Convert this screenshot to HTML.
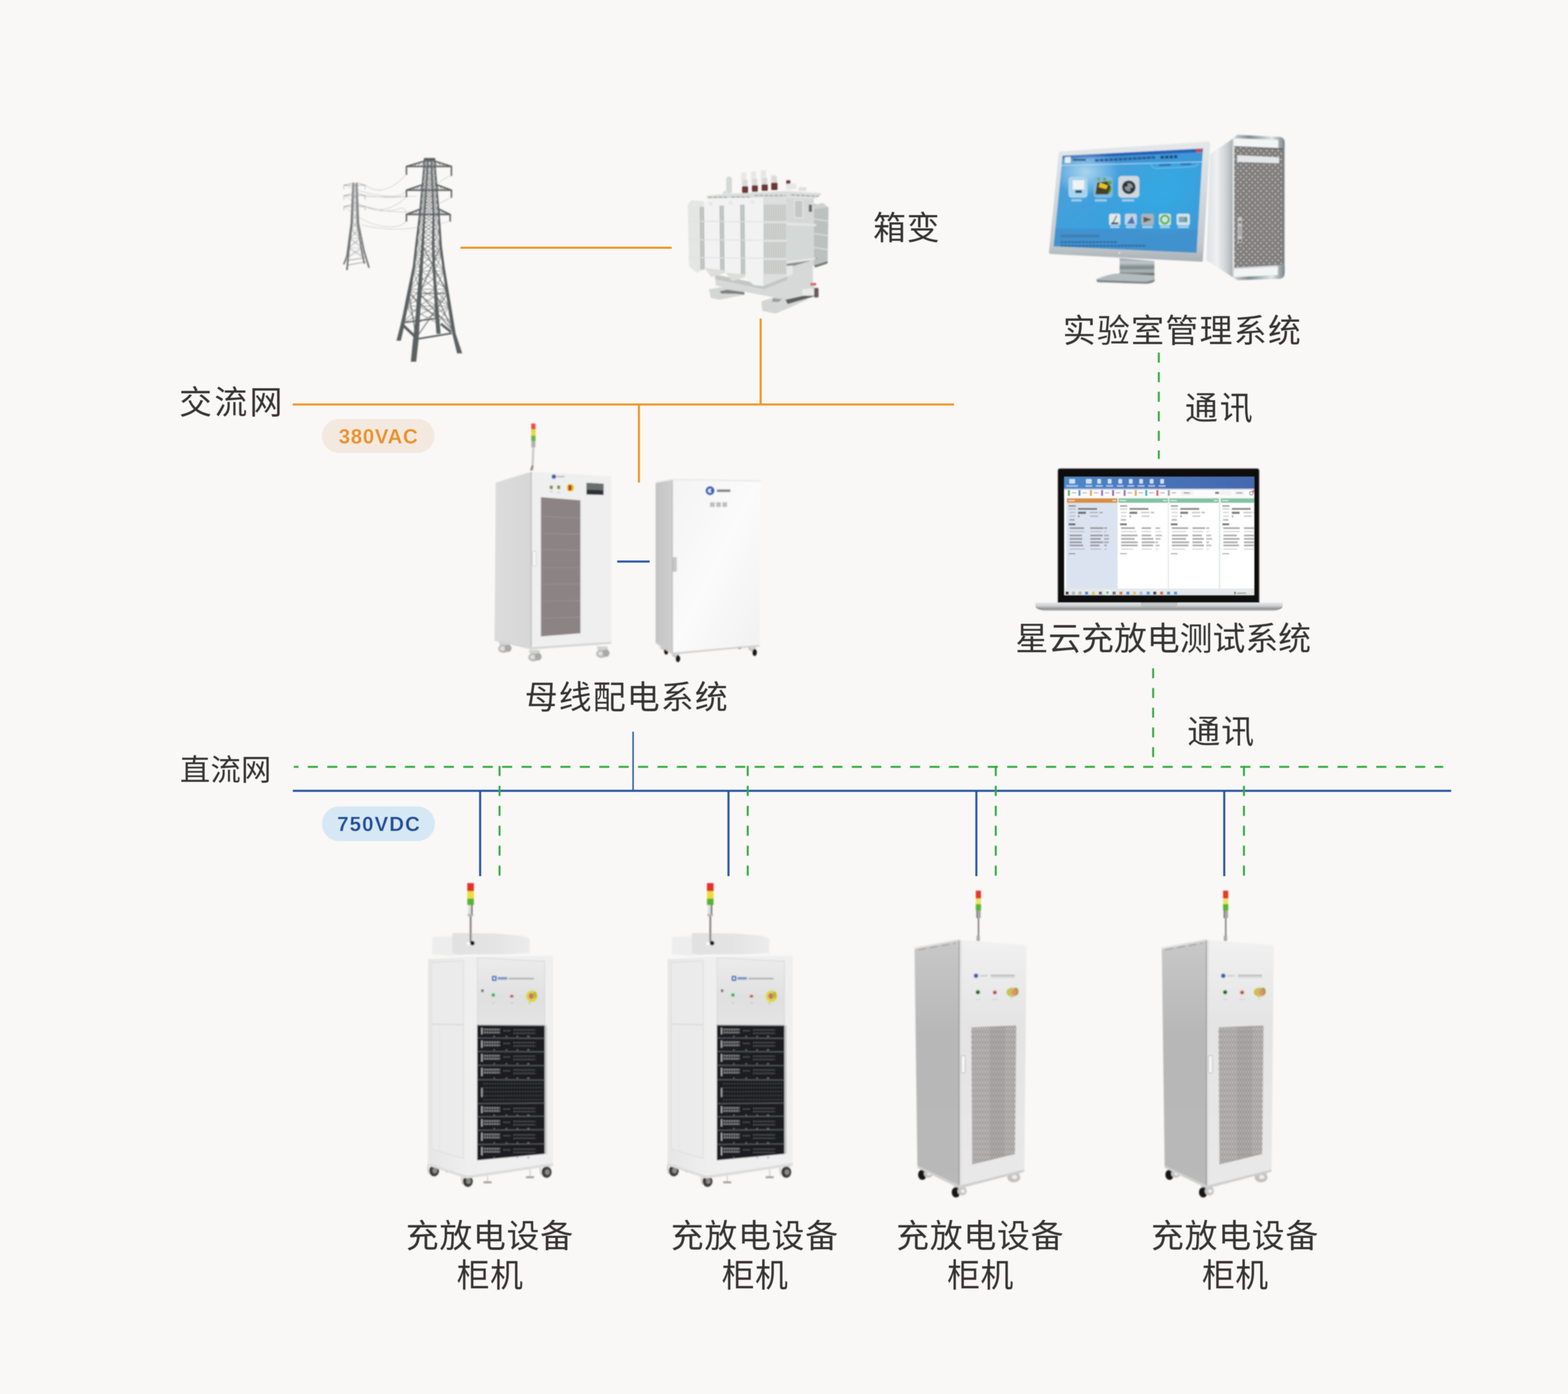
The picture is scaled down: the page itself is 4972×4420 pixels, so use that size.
<!DOCTYPE html>
<html lang="zh"><head><meta charset="utf-8"><title>充放电测试系统拓扑图</title>
<style>html,body{margin:0;padding:0;background:#f9f8f6;font-family:"Liberation Sans",sans-serif}svg{display:block}</style>
</head><body>
<svg width="4972" height="4420" viewBox="0 0 4972 4420">
<defs>
<filter id="bl1" x="-5%" y="-5%" width="110%" height="110%"><feGaussianBlur stdDeviation="1.5"/></filter>
<filter id="bl2" x="-5%" y="-5%" width="110%" height="110%"><feGaussianBlur stdDeviation="2.0"/></filter>
<filter id="bl0" x="-5%" y="-5%" width="110%" height="110%"><feGaussianBlur stdDeviation="1.1"/></filter>
</defs>
<rect width="4972" height="4420" fill="#f9f8f6"/>
<g id="lines" filter="url(#bl0)"><path d="M1460.0 785.5L2130.0 785.5" stroke="#ee9420" stroke-width="6.5" fill="none"/>
<path d="M2412.0 1010.0L2412.0 1283.0" stroke="#ee9420" stroke-width="6.5" fill="none"/>
<path d="M928.0 1282.5L3025.0 1282.5" stroke="#ee9420" stroke-width="6.5" fill="none"/>
<path d="M2026.0 1282.0L2026.0 1530.0" stroke="#ee9420" stroke-width="6.5" fill="none"/>
<path d="M1957.0 1780.5L2060.0 1780.5" stroke="#2553a3" stroke-width="6.5" fill="none"/>
<path d="M2007.5 2320.0L2007.5 2508.0" stroke="#2553a3" stroke-width="4.5" fill="none"/>
<path d="M928.5 2507.5L4601.5 2507.5" stroke="#2553a3" stroke-width="6.5" fill="none"/>
<path d="M1522.5 2507.0L1522.5 2778.0" stroke="#2553a3" stroke-width="6.5" fill="none"/>
<path d="M2310.0 2507.0L2310.0 2778.0" stroke="#2553a3" stroke-width="6.5" fill="none"/>
<path d="M3096.0 2507.0L3096.0 2778.0" stroke="#2553a3" stroke-width="6.5" fill="none"/>
<path d="M3882.0 2507.0L3882.0 2778.0" stroke="#2553a3" stroke-width="6.5" fill="none"/>
<path d="M931.5 2431.5L4576.0 2431.5" stroke="#2fa93c" stroke-width="6" fill="none" stroke-dasharray="32 29.6" stroke-dashoffset="17"/>
<path d="M1584.0 2428.5L1584.0 2778.0" stroke="#2fa93c" stroke-width="6" fill="none" stroke-dasharray="32 31.2" stroke-dashoffset="0"/>
<path d="M2371.0 2428.5L2371.0 2778.0" stroke="#2fa93c" stroke-width="6" fill="none" stroke-dasharray="32 31.2" stroke-dashoffset="0"/>
<path d="M3157.5 2428.5L3157.5 2778.0" stroke="#2fa93c" stroke-width="6" fill="none" stroke-dasharray="32 31.2" stroke-dashoffset="0"/>
<path d="M3944.5 2428.5L3944.5 2778.0" stroke="#2fa93c" stroke-width="6" fill="none" stroke-dasharray="32 31.2" stroke-dashoffset="0"/>
<path d="M3674.5 1118.0L3674.5 1455.0" stroke="#2fa93c" stroke-width="6" fill="none" stroke-dasharray="32 30" stroke-dashoffset="0"/>
<path d="M3656.5 2119.0L3656.5 2401.0" stroke="#2fa93c" stroke-width="6" fill="none" stroke-dasharray="31.5 31" stroke-dashoffset="0"/></g>
<g id="pills" filter="url(#bl0)"><rect x="1021" y="1328.5" width="357" height="107.5" rx="53.7" fill="#f3e9df"/>
<rect x="1021" y="2557" width="358" height="110" rx="55" fill="#d6e8f4"/>
<text x="1074.32" y="1405.60" font-family="&quot;Liberation Sans&quot;, sans-serif" font-size="64.6" font-weight="bold" fill="#ea9320" textLength="250" lengthAdjust="spacing">380VAC</text>
<text x="1069.17" y="2635.05" font-family="&quot;Liberation Sans&quot;, sans-serif" font-size="64.6" font-weight="bold" fill="#1f4f9e" textLength="262" lengthAdjust="spacing">750VDC</text></g>
<g id="illus"><!-- ill_pylon --><g filter="url(#bl2)"><g transform="translate(1050 470) scale(0.38521)"><path d="M280 300Q430 420 620 215M280 385Q480 420 620 395M270 400Q520 400 700 395M105 300Q330 400 520 395Q600 385 620 345M280 475Q450 560 620 400M105 385Q330 560 560 500Q600 470 620 540M280 475Q470 540 700 520M105 475Q330 680 560 640Q600 620 620 600M250 630Q480 690 720 650M990 225Q940 240 885 285M990 405Q940 430 890 455M980 600Q940 610 905 620" stroke="#9a9c9d" stroke-width="4" fill="none" opacity=".55"/><g opacity=".92"><path d="M177 290L185 330M187 290L175 330M187 290L217 330M215 290L185 330M215 290L206 330M205 290L217 330M177 290L206 330M205 290L175 330M177 290L215 290M175 330L183 385M185 330L173 385M185 330L218 385M217 330L183 385M217 330L208 385M206 330L218 385M175 330L208 385M206 330L173 385M175 330L217 330M173 385L181 430M183 385L171 430M183 385L220 430M218 385L181 430M218 385L209 430M208 385L220 430M173 385L209 430M208 385L171 430M173 385L218 385M171 430L179 475M181 430L170 475M181 430L221 475M220 430L179 475M220 430L211 475M209 430L221 475M171 430L211 475M209 430L170 475M171 430L220 430M170 475L176 540M179 475L167 540M179 475L223 540M221 475L176 540M221 475L213 540M211 475L223 540M170 475L213 540M211 475L167 540M170 475L221 475M167 540L174 600M176 540L165 600M176 540L225 600M223 540L174 600M223 540L214 600M213 540L225 600M167 540L214 600M213 540L165 600M167 540L223 540M165 600L167 670M174 600L158 670M174 600L236 670M225 600L167 670M225 600L223 670M214 600L236 670M165 600L223 670M214 600L158 670M165 600L225 600M158 670L158 740M167 670L149 740M167 670L250 740M236 670L158 740M236 670L234 740M223 670L250 740M158 670L234 740M223 670L149 740M158 670L236 670M149 740L149 820M158 740L138 820M158 740L265 820M250 740L149 820M250 740L247 820M234 740L265 820M149 740L247 820M234 740L138 820M149 740L250 740M138 820L140 900M149 820L125 900M149 820L287 900M265 820L140 900M265 820L263 900M247 820L287 900M138 820L263 900M247 820L125 900M138 820L265 820" stroke="#8a8d90" stroke-width="3.4" fill="none" opacity=".8"/><path d="M177 284L164 619L130 886L104 956" stroke="#8a8d90" stroke-width="1" fill="none" stroke-linejoin="round"/><path d="M187 284L173 619L141 886L130 1003" stroke="#8a8d90" stroke-width="1" fill="none" stroke-linejoin="round"/><path d="M215 284L226 619L269 838L312 984" stroke="#8a8d90" stroke-width="1" fill="none" stroke-linejoin="round"/><path d="M205 284L215 619L254 862L274 950" stroke="#8a8d90" stroke-width="1" fill="none" stroke-linejoin="round"/><path d="M188 284 L105 305 L105 338 M212 284 L280 305 L280 338 M105 305 H280" stroke="#909496" stroke-width="4" fill="none"/><path d="M188 369 L105 390 L105 423 M212 369 L280 390 L280 423 M105 390 H280" stroke="#909496" stroke-width="4" fill="none"/><path d="M188 459 L105 480 L105 513 M212 459 L280 480 L280 513 M105 480 H280" stroke="#909496" stroke-width="4" fill="none"/><path d="M118 925L292 900M135 962L285 935" stroke="#7a7e80" stroke-width="5"/><path d="M174.5 284.0L159.5 619.0L123.5 886.0L97.0 956.0L111.0 956.0L136.5 886.0L168.5 619.0L179.5 284.0Z" fill="#6c7072"/><path d="M184.5 284.0L168.5 619.0L134.5 886.0L123.0 1003.0L137.0 1003.0L147.5 886.0L177.5 619.0L189.5 284.0Z" fill="#64686a"/><path d="M212.5 284.0L221.5 619.0L262.5 838.0L305.0 984.0L319.0 984.0L275.5 838.0L230.5 619.0L217.5 284.0Z" fill="#64686a"/><path d="M202.5 284.0L210.5 619.0L247.5 862.0L267.0 950.0L281.0 950.0L260.5 862.0L219.5 619.0L207.5 284.0Z" fill="#6c7072"/></g><path d="M768 100L795 150M798 100L764 150M798 100L856 150M852 100L795 150M852 100L826 150M824 100L856 150M768 100L826 150M824 100L764 150M768 100L852 100M764 150L791 200M795 150L759 200M795 150L860 200M856 150L791 200M856 150L828 200M826 150L860 200M764 150L828 200M826 150L759 200M764 150L856 150M759 200L788 250M791 200L755 250M791 200L864 250M860 200L788 250M860 200L830 250M828 200L864 250M759 200L830 250M828 200L755 250M759 200L860 200M755 250L785 300M788 250L751 300M788 250L868 300M864 250L785 300M864 250L832 300M830 250L868 300M755 250L832 300M830 250L751 300M755 250L864 250M751 300L781 345M785 300L747 345M785 300L871 345M868 300L781 345M868 300L834 345M832 300L871 345M751 300L834 345M832 300L747 345M751 300L868 300M747 345L778 395M781 345L743 395M781 345L875 395M871 345L778 395M871 345L836 395M834 345L875 395M747 345L836 395M834 345L743 395M747 345L871 345M743 395L775 445M778 395L739 445M778 395L879 445M875 395L775 445M875 395L838 445M836 395L879 445M743 395L838 445M836 395L739 445M743 395L875 395M739 445L771 495M775 445L734 495M775 445L883 495M879 445L771 495M879 445L840 495M838 445L883 495M739 445L840 495M838 445L734 495M739 445L879 445M734 495L768 545M771 495L730 545M771 495L887 545M883 495L768 545M883 495L842 545M840 495L887 545M734 495L842 545M840 495L730 545M734 495L883 495M730 545L764 610M768 545L722 610M768 545L891 610M887 545L764 610M887 545L842 610M842 545L891 610M730 545L842 610M842 545L722 610M730 545L887 545M722 610L760 690M764 610L713 690M764 610L895 690M891 610L760 690M891 610L841 690M842 610L895 690M722 610L841 690M842 610L713 690M722 610L891 610M713 690L754 780M760 690L703 780M760 690L901 780M895 690L754 780M895 690L840 780M841 690L901 780M713 690L840 780M841 690L703 780M713 690L895 690M703 780L748 880M754 780L692 880M754 780L912 880M901 780L748 880M901 780L842 880M840 780L912 880M703 780L842 880M840 780L692 880M703 780L901 780M692 880L739 1010M748 880L675 1010M748 880L930 1010M912 880L739 1010M912 880L848 1010M842 880L930 1010M692 880L848 1010M842 880L675 1010M692 880L912 880M675 1010L729 1160M739 1010L647 1160M739 1010L953 1160M930 1010L729 1160M930 1010L858 1160M848 1010L953 1160M675 1010L858 1160M848 1010L647 1160M675 1010L930 1010M647 1160L719 1300M729 1160L619 1300M729 1160L974 1300M953 1160L719 1300M953 1160L867 1300M858 1160L974 1300M647 1160L867 1300M858 1160L619 1300M647 1160L953 1160M619 1300L709 1440M719 1300L590 1440M719 1300L997 1440M974 1300L709 1440M974 1300L877 1440M867 1300L997 1440M619 1300L877 1440M867 1300L590 1440M619 1300L974 1300" stroke="#666a6c" stroke-width="5.5" fill="none" opacity=".8"/><path d="M768 100L730 545L700 805L682 972L640 1195L606 1362L583 1473L556 1584" stroke="#666a6c" stroke-width="1" fill="none" stroke-linejoin="round"/><path d="M798 100L768 545L753 805L727 1195L711 1417L696 1585L678 1757" stroke="#666a6c" stroke-width="1" fill="none" stroke-linejoin="round"/><path d="M852 100L887 545L902 805L924 972L958 1195L984 1362L1012 1529L1058 1688" stroke="#666a6c" stroke-width="1" fill="none" stroke-linejoin="round"/><path d="M824 100L842 545L840 805L845 972L860 1195L871 1362L884 1527" stroke="#666a6c" stroke-width="1" fill="none" stroke-linejoin="round"/><path d="M640 1195L871 1400M727 1195L958 1195M753 805L958 1195M902 805L727 1195M727 1195L1000 1500M958 1195L700 1560M640 1195L700 1560M860 1195L1000 1500" stroke="#606466" stroke-width="9" fill="none" opacity=".8"/><path d="M580 1445L686 1546" stroke="#5c6062" stroke-width="22"/><path d="M720 1568L993 1523" stroke="#5c6062" stroke-width="14"/><path d="M608 1434L865 1401" stroke="#5c6062" stroke-width="11"/><path d="M903 1445L987 1512" stroke="#5c6062" stroke-width="20"/><path d="M763.0 100.0L723.0 545.0L691.0 805.0L672.0 972.0L625.0 1195.0L592.0 1362.0L566.5 1473.0L538.0 1584.0L574.0 1584.0L599.5 1473.0L620.0 1362.0L655.0 1195.0L692.0 972.0L709.0 805.0L737.0 545.0L773.0 100.0Z" fill="#5c6062"/><path d="M819.0 100.0L835.0 545.0L829.5 805.0L834.0 972.0L847.5 1195.0L855.5 1362.0L867.0 1527.0L901.0 1527.0L886.5 1362.0L872.5 1195.0L856.0 972.0L850.5 805.0L849.0 545.0L829.0 100.0Z" fill="#5c6062"/><path d="M847.0 100.0L880.0 545.0L892.5 805.0L914.0 972.0L945.5 1195.0L970.0 1362.0L998.0 1529.0L1037.0 1688.0L1079.0 1688.0L1026.0 1529.0L998.0 1362.0L970.5 1195.0L934.0 972.0L911.5 805.0L894.0 545.0L857.0 100.0Z" fill="#5c6062"/><path d="M793.0 100.0L761.0 545.0L742.0 805.0L710.0 1195.0L693.0 1417.0L673.0 1585.0L656.0 1757.0L700.0 1757.0L719.0 1585.0L729.0 1417.0L744.0 1195.0L764.0 805.0L775.0 545.0L803.0 100.0Z" fill="#5c6062"/><rect x="763" y="80" width="94" height="26" fill="#5c6062"/><path d="M770 105 L620 150 L620 218 M850 105 L990 150 L990 228 M620 150 H990" stroke="#5c6062" stroke-width="12" fill="none" stroke-linejoin="miter"/><path d="M620 150L650 141M990 150L962 141M650 150L680 132M962 150L934 132M680 150L710 123M934 150L906 123M710 150L740 114M906 150L878 114M740 150L770 105M878 150L850 105" stroke="#5c6062" stroke-width="6" fill="none" opacity=".8"/><path d="M752 300 L620 345 L620 403 M868 300 L990 345 L990 407 M620 345 H990" stroke="#5c6062" stroke-width="12" fill="none" stroke-linejoin="miter"/><path d="M620 345L646 336M990 345L966 336M646 345L673 327M966 345L941 327M673 345L699 318M941 345L917 318M699 345L726 309M917 345L892 309M726 345L752 300M892 345L868 300" stroke="#5c6062" stroke-width="6" fill="none" opacity=".8"/><path d="M735 500 L620 545 L620 603 M885 500 L980 545 L980 603 M620 545 H980" stroke="#5c6062" stroke-width="12" fill="none" stroke-linejoin="miter"/><path d="M620 545L643 536M980 545L961 536M643 545L666 527M961 545L942 527M666 545L689 518M942 545L923 518M689 545L712 509M923 545L904 509M712 545L735 500M904 545L885 500" stroke="#5c6062" stroke-width="6" fill="none" opacity=".8"/></g></g>
<!-- ill_trans --><g filter="url(#bl2)"><g transform="translate(2130 500) scale(0.29163)"><path d="M470 1270L1000 1380L1255 1285L1535 1170L1535 1480L1340 1560L900 1480L480 1390Z" fill="#d6d9d7" /><path d="M470 1270L1000 1380L1255 1285L1255 1330L1000 1430L472 1320Z" fill="#c2c6c4" /><path d="M405 1430L560 1405L790 1455L790 1490L520 1545L425 1525Z" fill="#d3d6d4" /><path d="M520 1452L600 1435L790 1462L790 1490L700 1480L540 1478Z" fill="#7d8280" /><path d="M975 1560L1130 1515L1490 1535L1340 1605L1130 1695L985 1665Z" fill="#d3d6d4" /><path d="M1235 1545L1530 1478L1548 1508L1262 1592Z" fill="#5a5f5d" /><path d="M1100 1525L1200 1540L1160 1570L1090 1565Z" fill="#9a9f9d" /><path d="M175 515L212 462L352 472L352 1215L270 1252L188 1180Z" fill="#e4e6e4" /><path d="M352 505L398 440L1000 418L1000 1395L890 1385L800 1300L660 1340L585 1250L430 1300L360 1200Z" fill="#f1f2f1" /><path d="M305 535L350 535L358 1215L313 1215Z" fill="#b3b8b6" /><path d="M327 535L335 1215" stroke="#e8eae8" stroke-width="6"/><path d="M520 520L565 520L573 1245L528 1245Z" fill="#b3b8b6" /><path d="M542 520L550 1245" stroke="#e8eae8" stroke-width="6"/><path d="M745 510L790 510L798 1270L753 1270Z" fill="#b3b8b6" /><path d="M767 510L775 1270" stroke="#e8eae8" stroke-width="6"/><path d="M430 1300L585 1250L585 1225L360 1200Z" fill="#dcdedc" /><path d="M660 1340L800 1300L800 1270L585 1250Z" fill="#dcdedc" /><path d="M180 690L1000 698" stroke="#dfe1df" stroke-width="10"/><path d="M180 890L1000 898" stroke="#dfe1df" stroke-width="10"/><path d="M180 1085L1000 1093" stroke="#dfe1df" stroke-width="10"/><path d="M995 418L1252 425L1257 1290L995 1395Z" fill="#dcdfdd" /><path d="M1000 505L1250 512L1255 1265L1000 1270Z" fill="#d6d9d7" /><path d="M1012 510V1265M1036 510V1265M1061 510V1265M1086 510V1265M1110 510V1265M1134 510V1265M1159 510V1265M1184 510V1265M1208 510V1265M1232 510V1265" stroke="#aeb2b0" stroke-width="8"/><rect x="1000" y="690" width="253" height="22" fill="#e0e3e1"/><rect x="1000" y="893" width="253" height="22" fill="#e0e3e1"/><rect x="1000" y="1090" width="253" height="22" fill="#e0e3e1"/><path d="M1250 430L1545 445L1545 1170L1255 1290Z" fill="#d4d8d6" /><path d="M1545 500L1705 540L1695 1125L1545 1170Z" fill="#bcc1bf" /><path d="M1545 665L1700 690" stroke="#d6d9d7" stroke-width="14"/><path d="M1545 825L1700 850" stroke="#d6d9d7" stroke-width="14"/><path d="M1545 975L1700 1000" stroke="#d6d9d7" stroke-width="14"/><path d="M1545 520L1640 490L1705 540L1545 560Z" fill="#cdd1cf" /><path d="M1250 705L1570 720L1570 745L1250 735Z" fill="#e3e5e3" /><path d="M1250 1125L1560 1085L1560 1115L1250 1155Z" fill="#e3e5e3" /><path d="M1250 1152L1560 1112L1580 1080L1580 1100L1330 1175L1250 1178Z" fill="#8a8f8d" /><path d="M1545 1170L1695 1125L1695 1150L1560 1195Z" fill="#747977" /><path d="M1250 1178L1315 1172L1315 1268L1250 1292Z" fill="#e6e8e7" /><path d="M1335 462L1425 466L1425 655L1335 650Z" fill="#c3c8c6" stroke="#eceeec" stroke-width="8"/><path d="M1490 510L1525 512L1525 590L1490 588Z" fill="#6e6462" /><path d="M380 412L600 392L1250 362L1622 385L1622 405L1560 442L1250 425L380 442Z" fill="#d9dcda" /><path d="M400 430H600M650 428H850M900 412H1240M1300 405L1600 420" stroke="#8c9290" stroke-width="12" stroke-dasharray="40 14" opacity=".8"/><path d="M380 412L600 392L1250 362L1622 385" stroke="#eceeec" stroke-width="10" fill="none"/><circle cx="245" cy="510" r="22" fill="#e6e8e6"/><circle cx="425" cy="500" r="22" fill="#e6e8e6"/><circle cx="640" cy="490" r="22" fill="#e6e8e6"/><circle cx="880" cy="480" r="22" fill="#e6e8e6"/><rect x="592" y="205" width="62" height="185" rx="28" fill="#d3d9d5"/><rect x="560" y="365" width="35" height="30" fill="#d9dcda"/><rect x="755" y="160" width="57" height="140" fill="#e8e8e6"/><rect x="773" y="240" width="51" height="70" fill="#d9d9d7"/><rect x="765" y="310" width="65" height="75" rx="8" fill="#6d3636"/><rect x="862" y="150" width="56" height="140" fill="#e8e8e6"/><rect x="880" y="230" width="50" height="70" fill="#d9d9d7"/><rect x="872" y="300" width="64" height="72" rx="8" fill="#6d3636"/><rect x="968" y="135" width="58" height="145" fill="#e8e8e6"/><rect x="986" y="220" width="52" height="70" fill="#d9d9d7"/><rect x="978" y="290" width="66" height="72" rx="8" fill="#6d3636"/><rect x="1072" y="185" width="60" height="77" fill="#e8e8e6"/><rect x="1090" y="202" width="54" height="70" fill="#d9d9d7"/><rect x="1082" y="272" width="68" height="80" rx="8" fill="#6d3636"/><rect x="1245" y="245" width="45" height="45" rx="10" fill="#6e3c3c"/><path d="M1240 285L1350 280L1360 340L1250 350Z" fill="#e6e8e6" /><rect x="1380" y="318" width="85" height="45" rx="12" fill="#e0e2de"/><path d="M1420 1430L1560 1415L1560 1500L1420 1500Z" fill="#e9ebe9" /><rect x="1548" y="1415" width="48" height="105" rx="14" fill="#6d5656"/><rect x="1508" y="1362" width="62" height="28" rx="6" fill="#d45a5a"/><rect x="1530" y="1385" width="20" height="45" fill="#cfcfcf"/></g></g>
<!-- ill_pc --><g filter="url(#bl2)"><g transform="translate(3280 400) scale(0.41585)"><defs>
<linearGradient id="pcBez" x1="0" y1="0" x2="0" y2="1"><stop offset="0" stop-color="#e4e8ea"/><stop offset=".85" stop-color="#c3c9cc"/><stop offset="1" stop-color="#a9b0b4"/></linearGradient>
<linearGradient id="pcScr" x1="0" y1="0" x2="1" y2="1"><stop offset="0" stop-color="#559dd6"/><stop offset=".55" stop-color="#38a2de"/><stop offset="1" stop-color="#3f96d4"/></linearGradient>
<linearGradient id="pcSide" x1="0" y1="0" x2="1" y2="0"><stop offset="0" stop-color="#dde1e3"/><stop offset=".4" stop-color="#eef0f1"/><stop offset=".75" stop-color="#cdd2d5"/><stop offset="1" stop-color="#a9b0b4"/></linearGradient><linearGradient id="pcBar" x1="0" y1="0" x2="1" y2="0"><stop offset="0" stop-color="#c9d0d3"/><stop offset=".3" stop-color="#7d8b90"/><stop offset=".75" stop-color="#dfe4e6"/><stop offset="1" stop-color="#76858a"/></linearGradient>
<linearGradient id="pcNeck" x1="0" y1="0" x2="0" y2="1"><stop offset="0" stop-color="#98a2a6"/><stop offset=".25" stop-color="#c2c8cb"/><stop offset=".5" stop-color="#7b868a"/><stop offset=".7" stop-color="#b0b8bb"/><stop offset=".9" stop-color="#566165"/><stop offset="1" stop-color="#98a0a4"/></linearGradient>
<linearGradient id="pcFrame" x1="0" y1="0" x2="1" y2="0"><stop offset="0" stop-color="#d6dadc"/><stop offset=".8" stop-color="#c9ced0"/><stop offset="1" stop-color="#8e9598"/></linearGradient>
<radialGradient id="pcGl1"><stop offset="0" stop-color="#c2e2f4" stop-opacity=".8"/><stop offset="1" stop-color="#c2e2f4" stop-opacity="0"/></radialGradient><radialGradient id="pcGl2"><stop offset="0" stop-color="#30b0e8" stop-opacity=".55"/><stop offset="1" stop-color="#30b0e8" stop-opacity="0"/></radialGradient><clipPath id="pcClip"><path d="M215 226L1285 170L1236 966L146 916Z"/></clipPath>
<pattern id="pcMesh" width="44" height="44" patternUnits="userSpaceOnUse"><rect width="44" height="44" fill="#858180"/><circle cx="11" cy="11" r="7.5" fill="#d4d2d1"/><circle cx="33" cy="33" r="7.5" fill="#d4d2d1"/><circle cx="33" cy="11" r="4" fill="#a5a2a1"/><circle cx="11" cy="33" r="4" fill="#a5a2a1"/></pattern>
</defs><path d="M1340 212L1512 96L1512 1152L1312 1022Z" fill="url(#pcSide)" /><path d="M1512 96L1546 66L1868 82Q1908 86 1908 126L1908 1118Q1908 1160 1868 1164L1546 1174L1512 1152Z" fill="url(#pcFrame)"/><path d="M1546 66L1868 82Q1908 86 1908 126L1908 170L1862 170L1859 105L1522 93Z" fill="url(#pcBar)"/><path d="M1546 1174L1868 1164Q1908 1160 1908 1118L1908 1060L1858 1068L1856 1135L1522 1150Z" fill="url(#pcBar)"/><path d="M1522 93L1859 105L1859 172L1522 157Z" fill="#f3f4f4" /><path d="M1522 1091L1856 1070L1856 1135L1522 1150Z" fill="#f3f4f4" /><path d="M1522 155L1897 172L1897 1053L1522 1077Z" fill="url(#pcMesh)" /><path d="M1522 155L1897 172L1897 1053L1522 1077Z" fill="#5e5a59" opacity=".22"/><path d="M1522 155L1897 172" stroke="#4a5458" stroke-width="8" opacity=".7"/><path d="M1522 1077L1897 1053" stroke="#5a6468" stroke-width="6" opacity=".6"/><path d="M1900 172V1053" stroke="#6a7478" stroke-width="8" opacity=".6"/><path d="M1519 157V1077" stroke="#eef0f1" stroke-width="7"/><path d="M1546 221L1866 238L1866 283L1546 272Z" fill="#e4e7e8" /><rect x="1553" y="696" width="28" height="192" fill="#d4d4d4" opacity=".9"/><rect x="1560" y="720" width="14" height="22" fill="#555"/><rect x="1560" y="862" width="14" height="20" fill="#333"/><rect x="1560" y="760" width="14" height="80" fill="#8a8a8a" opacity=".7"/><path d="M650 1005L915 1028L915 1150L650 1135Z" fill="url(#pcNeck)" /><path d="M470 1168Q560 1128 650 1122L915 1138L918 1172Q900 1198 850 1200L480 1188Z" fill="#b4babd"/><path d="M472 1172L850 1186L916 1170L918 1180Q900 1200 850 1202L480 1190Z" fill="#7f888c"/><path d="M198 192L1326 116Q1342 115 1341 131L1287 1022Q1286 1037 1271 1036L124 977Q108 976 109 961L184 206Q185 193 198 192Z" fill="url(#pcBez)" stroke="#f0f2f3" stroke-width="5"/><path d="M215 226L1285 170L1236 966L146 916Z" fill="url(#pcScr)" /><path d="M215 226L1285 170L1283.29 197.86L212.585 250.15Z" fill="#2a63b8" /><path d="M212.585 250.15L1283.29 197.86L1278.63 273.48L208.1 295Z" fill="#3f8cd0" opacity=".45"/><path d="M205 300L1283 272" stroke="#c4e2f5" stroke-width="7" opacity=".75"/><ellipse cx="390" cy="350" rx="260" ry="180" fill="url(#pcGl1)" clip-path="url(#pcClip)"/><path d="M1236.85 172.52L1274.3 170.56L1272.58 198.383L1235.1 200.213Z" fill="#d8453a" /><path d="M159.8 778L1246.78 790.88L1236 966L146 916Z" fill="#4290cc" opacity=".8"/><ellipse cx="1000" cy="520" rx="380" ry="320" fill="url(#pcGl2)" clip-path="url(#pcClip)"/><path d="M232 236L276 234L276 280L232 282Z" fill="#e8eef6" /><rect x="292" y="250" width="100" height="14" fill="#24406e" opacity=".8"/><path d="M462 262L920 238" stroke="#27508f" stroke-width="22" stroke-dasharray="30 6" opacity=".8"/><path d="M962 238L1090 232" stroke="#20406f" stroke-width="24" stroke-dasharray="26 8" opacity=".85"/><path d="M950 298L1040 294M1115 292L1195 288" stroke="#2c5d9c" stroke-width="14" opacity=".7"/><path d="M885 290Q900 322 940 322L1200 310Q1240 308 1250 284" stroke="#8fc4ea" stroke-width="5" fill="none" opacity=".8"/><rect x="260" y="385" width="145" height="160" rx="24" fill="#a9d4ee"/><rect x="292" y="412" width="88" height="70" fill="#eef3f6"/><rect x="312" y="488" width="50" height="22" fill="#2b4a6a"/><rect x="452" y="385" width="145" height="160" rx="24" fill="#7fb9e0"/><path d="M465 520L480 430L560 420L585 470L560 520Z" fill="#4a4020"/><path d="M500 430L560 452L548 480L490 465Z" fill="#e8c22a"/><circle cx="575" cy="430" r="16" fill="#58a83a"/><circle cx="535" cy="405" r="12" fill="#58a83a"/><circle cx="490" cy="405" r="10" fill="#58a83a"/><path d="M560 520Q600 500 585 450L570 500Z" fill="#58a83a"/><rect x="640" y="380" width="160" height="165" rx="26" fill="#cfd8de"/><circle cx="720" cy="466" r="52" fill="#343a40"/><circle cx="720" cy="466" r="30" fill="#8a949c"/><circle cx="700" cy="450" r="12" fill="#23282c"/><circle cx="742" cy="482" r="12" fill="#23282c"/><rect x="282" y="558" width="78" height="16" fill="#b9dbf2" opacity=".8"/><rect x="462" y="558" width="90" height="16" fill="#b9dbf2" opacity=".8"/><rect x="668" y="558" width="92" height="16" fill="#b9dbf2" opacity=".8"/><rect x="570" y="668" width="85" height="88" rx="14" fill="#dfe8ee"/><rect x="578" y="762" width="69" height="14" fill="#c8e2f4" opacity=".8"/><rect x="690" y="668" width="90" height="88" rx="14" fill="#c4d4e4"/><rect x="698" y="762" width="74" height="14" fill="#c8e2f4" opacity=".8"/><rect x="815" y="668" width="95" height="88" rx="14" fill="#a8b4ba"/><rect x="823" y="762" width="79" height="14" fill="#c8e2f4" opacity=".8"/><rect x="950" y="668" width="90" height="88" rx="14" fill="#cfe6d6"/><rect x="958" y="762" width="74" height="14" fill="#c8e2f4" opacity=".8"/><rect x="1085" y="668" width="100" height="88" rx="14" fill="#d5e4ec"/><rect x="1093" y="762" width="84" height="14" fill="#c8e2f4" opacity=".8"/><path d="M598 740L628 682" stroke="#5a4040" stroke-width="8"/><rect x="585" y="735" width="56" height="14" fill="#2c3c58"/><path d="M705 745L745 685L768 745Z" fill="#4a78b8"/><path d="M832 690L895 712L832 736Z" fill="#5c5c58"/><circle cx="995" cy="712" r="30" fill="none" stroke="#4aae48" stroke-width="14"/><rect x="1100" y="690" width="66" height="44" fill="#7fa8c0"/><path d="M1150 690L1168 712L1150 734" fill="#3e9a44"/><rect x="200" y="826" width="295" height="22" fill="#4a6a98" opacity=".6"/><path d="M200 884H630M200 912H850" stroke="#2a4a80" stroke-width="13" stroke-dasharray="22 5" opacity=".6"/><circle cx="648" cy="966" r="6" fill="#f4f6f7"/></g></g>
<!-- ill_laptop --><g filter="url(#bl1)"><g transform="translate(3250 1450) scale(0.41585)"><defs>
<linearGradient id="lpBase" x1="0" y1="0" x2="0" y2="1"><stop offset="0" stop-color="#e9ebec"/><stop offset=".45" stop-color="#c9cbcd"/><stop offset=".75" stop-color="#8f9193"/><stop offset="1" stop-color="#b9bbbd"/></linearGradient>
<linearGradient id="lpHdr" x1="0" y1="0" x2="1" y2="0"><stop offset="0" stop-color="#4b8acb"/><stop offset=".5" stop-color="#4673b8"/><stop offset="1" stop-color="#4468ae"/></linearGradient>
</defs><path d="M80 1106H1965V1138Q1960 1160 1900 1170H145Q85 1160 80 1138Z" fill="url(#lpBase)"/><path d="M888 1106H1157V1118Q1157 1136 1135 1136H910Q888 1136 888 1118Z" fill="#c4c6c8" stroke="#9a9c9e" stroke-width="3"/><path d="M250 1108V105Q250 85 270 85H1767Q1787 85 1787 105V1108Z" fill="#0b0707"/><path d="M250 1108V105Q250 85 270 85H1767Q1787 85 1787 105V1108" fill="none" stroke="#8a8684" stroke-width="5"/><rect x="300" y="150" width="1447" height="900" fill="#f3f6f5"/><rect x="300" y="150" width="1447" height="92" fill="url(#lpHdr)"/><rect x="338" y="166" width="44" height="34" rx="4" fill="#e9f0fa" opacity=".85"/><rect x="315" y="212" width="90" height="13" fill="#cfdcf0" opacity=".7"/><rect x="465" y="166" width="44" height="34" rx="4" fill="#e9f0fa" opacity=".85"/><rect x="461" y="212" width="52" height="13" fill="#cfdcf0" opacity=".7"/><rect x="552" y="166" width="28" height="34" rx="4" fill="#e9f0fa" opacity=".85"/><rect x="540" y="212" width="52" height="13" fill="#cfdcf0" opacity=".7"/><rect x="632" y="166" width="28" height="34" rx="4" fill="#e9f0fa" opacity=".85"/><rect x="620" y="212" width="52" height="13" fill="#cfdcf0" opacity=".7"/><rect x="713" y="166" width="28" height="34" rx="4" fill="#e9f0fa" opacity=".85"/><rect x="701" y="212" width="52" height="13" fill="#cfdcf0" opacity=".7"/><rect x="793" y="166" width="28" height="34" rx="4" fill="#e9f0fa" opacity=".85"/><rect x="781" y="212" width="52" height="13" fill="#cfdcf0" opacity=".7"/><rect x="872" y="166" width="28" height="34" rx="4" fill="#e9f0fa" opacity=".85"/><rect x="860" y="212" width="52" height="13" fill="#cfdcf0" opacity=".7"/><rect x="952" y="166" width="28" height="34" rx="4" fill="#e9f0fa" opacity=".85"/><rect x="940" y="212" width="52" height="13" fill="#cfdcf0" opacity=".7"/><rect x="1032" y="166" width="28" height="34" rx="4" fill="#e9f0fa" opacity=".85"/><rect x="1020" y="212" width="52" height="13" fill="#cfdcf0" opacity=".7"/><rect x="300" y="242" width="1447" height="64" fill="#fbfbfb"/><rect x="300" y="238" width="1447" height="9" fill="#b8c4e2"/><rect x="327" y="250" width="16" height="44" fill="#3daa4a" opacity=".9"/><rect x="357" y="266" width="34" height="10" fill="#9a9a9a" opacity=".6"/><rect x="408" y="250" width="16" height="44" fill="#4a80c8" opacity=".9"/><rect x="438" y="266" width="34" height="10" fill="#9a9a9a" opacity=".6"/><rect x="495" y="250" width="16" height="44" fill="#e09a38" opacity=".9"/><rect x="525" y="266" width="34" height="10" fill="#9a9a9a" opacity=".6"/><rect x="580" y="250" width="16" height="44" fill="#9a58b8" opacity=".9"/><rect x="610" y="266" width="34" height="10" fill="#9a9a9a" opacity=".6"/><rect x="664" y="250" width="16" height="44" fill="#8a50b0" opacity=".9"/><rect x="694" y="266" width="34" height="10" fill="#9a9a9a" opacity=".6"/><rect x="752" y="250" width="16" height="44" fill="#9a58b8" opacity=".9"/><rect x="782" y="266" width="34" height="10" fill="#9a9a9a" opacity=".6"/><rect x="837" y="250" width="16" height="44" fill="#e8a030" opacity=".9"/><rect x="867" y="266" width="34" height="10" fill="#9a9a9a" opacity=".6"/><rect x="917" y="250" width="16" height="44" fill="#28a8b8" opacity=".9"/><rect x="947" y="266" width="34" height="10" fill="#9a9a9a" opacity=".6"/><rect x="1002" y="250" width="16" height="44" fill="#e04a5a" opacity=".9"/><rect x="1032" y="266" width="34" height="10" fill="#9a9a9a" opacity=".6"/><rect x="1089" y="250" width="16" height="44" fill="#9a9a9a" opacity=".9"/><rect x="1119" y="266" width="34" height="10" fill="#9a9a9a" opacity=".6"/><rect x="1190" y="256" width="90" height="32" fill="#f0f0f0"/><rect x="1210" y="267" width="46" height="9" fill="#a0a0a0"/><rect x="1450" y="262" width="30" height="18" fill="#5a5a5a" opacity=".7"/><rect x="1488" y="256" width="85" height="32" fill="#f2f2f2"/><rect x="1595" y="256" width="80" height="32" fill="#f2f2f2"/><rect x="1612" y="267" width="46" height="9" fill="#a0a0a0"/><circle cx="1726" cy="274" r="13" fill="none" stroke="#7a7a7a" stroke-width="6"/><rect x="1735" y="250" width="12" height="16" fill="#e05050"/><rect x="318" y="312" width="387" height="690" fill="#dbe3f0"/><rect x="321" y="313" width="384" height="34" fill="#d98e3e"/><rect x="330" y="326" width="50" height="8" fill="#ffffff" opacity=".7"/><rect x="667" y="326" width="30" height="8" fill="#ffffff" opacity=".7"/><rect x="333" y="365" width="55" height="12" fill="#555" opacity="0.58"/><rect x="333" y="388" width="55" height="12" fill="#999" opacity="0.43"/><rect x="405" y="386" width="145" height="15" fill="#444" opacity="0.61"/><rect x="339" y="415" width="45" height="12" fill="#999" opacity="0.36"/><rect x="405" y="414" width="60" height="18" fill="#333" opacity="0.61"/><rect x="493" y="415" width="65" height="12" fill="#888" opacity="0.43"/><rect x="568" y="415" width="25" height="12" fill="#666" opacity="0.43"/><rect x="339" y="443" width="45" height="12" fill="#999" opacity="0.36"/><rect x="405" y="443" width="12" height="14" fill="#444" opacity="0.50"/><rect x="498" y="443" width="60" height="12" fill="#888" opacity="0.43"/><rect x="339" y="470" width="40" height="14" fill="#777" opacity="0.50"/><rect x="333" y="503" width="52" height="16" fill="#333" opacity="0.65"/><rect x="341" y="533" width="110" height="14" fill="#555" opacity=".48"/><rect x="498" y="533" width="100" height="14" fill="#555" opacity=".48"/><rect x="603" y="533" width="24" height="14" fill="#555" opacity="0.36"/><rect x="341" y="563" width="115" height="6" fill="#666" opacity=".42"/><rect x="498" y="563" width="90" height="6" fill="#666" opacity=".42"/><rect x="603" y="563" width="21" height="6" fill="#666" opacity="0.36"/><rect x="341" y="589" width="94" height="14" fill="#555" opacity=".48"/><rect x="498" y="589" width="96" height="14" fill="#555" opacity=".48"/><rect x="603" y="589" width="37" height="14" fill="#555" opacity="0.36"/><rect x="341" y="615" width="96" height="14" fill="#555" opacity=".48"/><rect x="498" y="615" width="81" height="14" fill="#555" opacity=".48"/><rect x="603" y="615" width="38" height="14" fill="#555" opacity="0.36"/><rect x="341" y="641" width="93" height="14" fill="#555" opacity=".48"/><rect x="498" y="641" width="99" height="14" fill="#555" opacity=".48"/><rect x="603" y="641" width="36" height="14" fill="#555" opacity="0.36"/><rect x="341" y="665" width="103" height="14" fill="#555" opacity=".48"/><rect x="498" y="665" width="71" height="14" fill="#555" opacity=".48"/><rect x="603" y="665" width="22" height="14" fill="#555" opacity="0.36"/><rect x="341" y="697" width="117" height="6" fill="#666" opacity=".42"/><rect x="498" y="697" width="83" height="6" fill="#666" opacity=".42"/><rect x="603" y="697" width="22" height="6" fill="#666" opacity="0.36"/><rect x="333" y="732" width="52" height="6" fill="#333" opacity="0.65"/><rect x="710" y="312" width="380" height="690" fill="#ffffff"/><rect x="713" y="313" width="377" height="34" fill="#82c3a3"/><rect x="722" y="326" width="50" height="8" fill="#ffffff" opacity=".7"/><rect x="1052" y="326" width="30" height="8" fill="#ffffff" opacity=".7"/><rect x="725" y="365" width="55" height="12" fill="#555" opacity="0.58"/><rect x="725" y="388" width="55" height="12" fill="#999" opacity="0.43"/><rect x="797" y="386" width="145" height="15" fill="#444" opacity="0.61"/><rect x="731" y="415" width="45" height="12" fill="#999" opacity="0.36"/><rect x="797" y="414" width="60" height="18" fill="#333" opacity="0.61"/><rect x="885" y="415" width="65" height="12" fill="#888" opacity="0.43"/><rect x="960" y="415" width="25" height="12" fill="#666" opacity="0.43"/><rect x="731" y="443" width="45" height="12" fill="#999" opacity="0.36"/><rect x="797" y="443" width="12" height="14" fill="#444" opacity="0.50"/><rect x="890" y="443" width="60" height="12" fill="#888" opacity="0.43"/><rect x="731" y="470" width="40" height="14" fill="#777" opacity="0.50"/><rect x="725" y="503" width="52" height="16" fill="#333" opacity="0.65"/><rect x="733" y="533" width="105" height="14" fill="#555" opacity=".48"/><rect x="890" y="533" width="72" height="14" fill="#555" opacity=".48"/><rect x="995" y="533" width="37" height="14" fill="#555" opacity="0.36"/><rect x="733" y="563" width="117" height="6" fill="#666" opacity=".42"/><rect x="890" y="563" width="71" height="6" fill="#666" opacity=".42"/><rect x="995" y="563" width="46" height="6" fill="#666" opacity="0.36"/><rect x="733" y="589" width="126" height="14" fill="#555" opacity=".48"/><rect x="890" y="589" width="73" height="14" fill="#555" opacity=".48"/><rect x="995" y="589" width="50" height="14" fill="#555" opacity="0.36"/><rect x="733" y="615" width="104" height="14" fill="#555" opacity=".48"/><rect x="890" y="615" width="90" height="14" fill="#555" opacity=".48"/><rect x="995" y="615" width="40" height="14" fill="#555" opacity="0.36"/><rect x="733" y="641" width="127" height="14" fill="#555" opacity=".48"/><rect x="890" y="641" width="100" height="14" fill="#555" opacity=".48"/><rect x="995" y="641" width="21" height="14" fill="#555" opacity="0.36"/><rect x="733" y="665" width="126" height="14" fill="#555" opacity=".48"/><rect x="890" y="665" width="88" height="14" fill="#555" opacity=".48"/><rect x="995" y="665" width="32" height="14" fill="#555" opacity="0.36"/><rect x="733" y="697" width="93" height="6" fill="#666" opacity=".42"/><rect x="890" y="697" width="77" height="6" fill="#666" opacity=".42"/><rect x="995" y="697" width="21" height="6" fill="#666" opacity="0.36"/><rect x="725" y="732" width="52" height="6" fill="#333" opacity="0.65"/><rect x="1097" y="312" width="381" height="690" fill="#ffffff"/><rect x="1100" y="313" width="378" height="34" fill="#82c3a3"/><rect x="1109" y="326" width="50" height="8" fill="#ffffff" opacity=".7"/><rect x="1440" y="326" width="30" height="8" fill="#ffffff" opacity=".7"/><rect x="1112" y="365" width="55" height="12" fill="#555" opacity="0.58"/><rect x="1112" y="388" width="55" height="12" fill="#999" opacity="0.43"/><rect x="1184" y="386" width="145" height="15" fill="#444" opacity="0.61"/><rect x="1118" y="415" width="45" height="12" fill="#999" opacity="0.36"/><rect x="1184" y="414" width="60" height="18" fill="#333" opacity="0.61"/><rect x="1272" y="415" width="65" height="12" fill="#888" opacity="0.43"/><rect x="1347" y="415" width="25" height="12" fill="#666" opacity="0.43"/><rect x="1118" y="443" width="45" height="12" fill="#999" opacity="0.36"/><rect x="1184" y="443" width="12" height="14" fill="#444" opacity="0.50"/><rect x="1277" y="443" width="60" height="12" fill="#888" opacity="0.43"/><rect x="1118" y="470" width="40" height="14" fill="#777" opacity="0.50"/><rect x="1112" y="503" width="52" height="16" fill="#333" opacity="0.65"/><rect x="1120" y="533" width="125" height="14" fill="#555" opacity=".48"/><rect x="1277" y="533" width="97" height="14" fill="#555" opacity=".48"/><rect x="1382" y="533" width="24" height="14" fill="#555" opacity="0.36"/><rect x="1120" y="563" width="108" height="6" fill="#666" opacity=".42"/><rect x="1277" y="563" width="83" height="6" fill="#666" opacity=".42"/><rect x="1382" y="563" width="24" height="6" fill="#666" opacity="0.36"/><rect x="1120" y="589" width="124" height="14" fill="#555" opacity=".48"/><rect x="1277" y="589" width="73" height="14" fill="#555" opacity=".48"/><rect x="1382" y="589" width="38" height="14" fill="#555" opacity="0.36"/><rect x="1120" y="615" width="109" height="14" fill="#555" opacity=".48"/><rect x="1277" y="615" width="87" height="14" fill="#555" opacity=".48"/><rect x="1382" y="615" width="46" height="14" fill="#555" opacity="0.36"/><rect x="1120" y="641" width="133" height="14" fill="#555" opacity=".48"/><rect x="1277" y="641" width="75" height="14" fill="#555" opacity=".48"/><rect x="1382" y="641" width="23" height="14" fill="#555" opacity="0.36"/><rect x="1120" y="665" width="127" height="14" fill="#555" opacity=".48"/><rect x="1277" y="665" width="88" height="14" fill="#555" opacity=".48"/><rect x="1382" y="665" width="40" height="14" fill="#555" opacity="0.36"/><rect x="1120" y="697" width="102" height="6" fill="#666" opacity=".42"/><rect x="1277" y="697" width="81" height="6" fill="#666" opacity=".42"/><rect x="1382" y="697" width="23" height="6" fill="#666" opacity="0.36"/><rect x="1112" y="732" width="52" height="6" fill="#333" opacity="0.65"/><rect x="1490" y="312" width="257" height="690" fill="#ffffff"/><rect x="1493" y="313" width="254" height="34" fill="#82c3a3"/><rect x="1502" y="326" width="50" height="8" fill="#ffffff" opacity=".7"/><rect x="1505" y="365" width="55" height="12" fill="#555" opacity="0.58"/><rect x="1505" y="388" width="55" height="12" fill="#999" opacity="0.43"/><rect x="1577" y="386" width="145" height="15" fill="#444" opacity="0.61"/><rect x="1511" y="415" width="45" height="12" fill="#999" opacity="0.36"/><rect x="1577" y="414" width="60" height="18" fill="#333" opacity="0.61"/><rect x="1665" y="415" width="65" height="12" fill="#888" opacity="0.43"/><rect x="1740" y="415" width="5" height="12" fill="#666" opacity="0.43"/><rect x="1511" y="443" width="45" height="12" fill="#999" opacity="0.36"/><rect x="1577" y="443" width="12" height="14" fill="#444" opacity="0.50"/><rect x="1670" y="443" width="60" height="12" fill="#888" opacity="0.43"/><rect x="1511" y="470" width="40" height="14" fill="#777" opacity="0.50"/><rect x="1505" y="503" width="52" height="16" fill="#333" opacity="0.65"/><rect x="1513" y="533" width="125" height="14" fill="#555" opacity=".48"/><rect x="1670" y="533" width="75" height="14" fill="#555" opacity=".48"/><rect x="1513" y="563" width="126" height="6" fill="#666" opacity=".42"/><rect x="1670" y="563" width="71" height="6" fill="#666" opacity=".42"/><rect x="1513" y="589" width="103" height="14" fill="#555" opacity=".48"/><rect x="1670" y="589" width="75" height="14" fill="#555" opacity=".48"/><rect x="1513" y="615" width="124" height="14" fill="#555" opacity=".48"/><rect x="1670" y="615" width="75" height="14" fill="#555" opacity=".48"/><rect x="1513" y="641" width="110" height="14" fill="#555" opacity=".48"/><rect x="1670" y="641" width="75" height="14" fill="#555" opacity=".48"/><rect x="1513" y="665" width="119" height="14" fill="#555" opacity=".48"/><rect x="1670" y="665" width="75" height="14" fill="#555" opacity=".48"/><rect x="1513" y="697" width="105" height="6" fill="#666" opacity=".42"/><rect x="1670" y="697" width="75" height="6" fill="#666" opacity=".42"/><rect x="1505" y="732" width="52" height="6" fill="#333" opacity="0.65"/><path d="M1093 312V1000M1484 312V1000" stroke="#cfe0da" stroke-width="5"/><rect x="300" y="1000" width="1447" height="50" fill="#e5e8eb"/><rect x="310" y="1024" width="24" height="22" fill="#222" opacity=".85"/><rect x="358" y="1024" width="24" height="22" fill="#aaa" opacity=".85"/><rect x="408" y="1024" width="24" height="22" fill="#aaa" opacity=".85"/><rect x="458" y="1024" width="24" height="22" fill="#2c7cd0" opacity=".85"/><rect x="510" y="1024" width="24" height="22" fill="#e8b830" opacity=".85"/><rect x="563" y="1024" width="24" height="22" fill="#555" opacity=".85"/><rect x="616" y="1024" width="24" height="22" fill="#5ab85a" opacity=".85"/><rect x="668" y="1024" width="24" height="22" fill="#555" opacity=".85"/><rect x="720" y="1024" width="24" height="22" fill="#e06030" opacity=".85"/><rect x="773" y="1024" width="24" height="22" fill="#3a80d0" opacity=".85"/><rect x="823" y="1024" width="24" height="22" fill="#e8c040" opacity=".85"/><rect x="873" y="1024" width="24" height="22" fill="#9ab8e0" opacity=".85"/><rect x="928" y="1024" width="24" height="22" fill="#3a90d8" opacity=".85"/><rect x="978" y="1024" width="24" height="22" fill="#222" opacity=".85"/><rect x="1030" y="1024" width="24" height="22" fill="#e05030" opacity=".85"/><rect x="1083" y="1024" width="24" height="22" fill="#3a80d0" opacity=".85"/><rect x="1136" y="1024" width="24" height="22" fill="#2a90e0" opacity=".85"/><rect x="610" y="1012" width="42" height="38" fill="#f4f6f8"/><rect x="618" y="1022" width="22" height="20" fill="#5ab85a" opacity=".8"/><rect x="1595" y="1026" width="14" height="18" fill="#3a9a4a"/><rect x="1618" y="1032" width="70" height="8" fill="#666" opacity=".7"/></g></g>
<!-- ill_dist --><g filter="url(#bl2)"><g transform="translate(1500 1300) scale(0.48924)"><defs>
<linearGradient id="dA" x1="0" y1="0" x2="1" y2="0"><stop offset="0" stop-color="#dcdcdc"/><stop offset="1" stop-color="#d7d7d7"/></linearGradient>
<linearGradient id="dB" x1="0" y1="0" x2="1" y2="0"><stop offset="0" stop-color="#c4c4c4"/><stop offset="1" stop-color="#cfcfcf"/></linearGradient>
<linearGradient id="dBf" x1="0" y1="0" x2="1" y2="1"><stop offset="0" stop-color="#f4f4f4"/><stop offset=".5" stop-color="#fbfbfb"/><stop offset="1" stop-color="#f1f1f1"/></linearGradient>
<pattern id="dMesh" width="8" height="11" patternUnits="userSpaceOnUse"><rect width="8" height="11" fill="#928a8a"/><rect y="0" width="8" height="4" fill="#827a7a"/></pattern>
</defs><g transform="translate(205 1530) scale(1.0)"><path d="M-38 -30H30L36 0L-30 4Z" fill="#d2d2d2"/><ellipse cx="-8" cy="18" rx="34" ry="26" fill="#b9b9b9"/><ellipse cx="-14" cy="16" rx="16" ry="14" fill="#dedede"/><ellipse cx="22" cy="14" rx="22" ry="24" fill="#a8a8a8"/></g><g transform="translate(400 1585) scale(1.0)"><path d="M-38 -30H30L36 0L-30 4Z" fill="#d2d2d2"/><ellipse cx="-8" cy="18" rx="34" ry="26" fill="#b9b9b9"/><ellipse cx="-14" cy="16" rx="16" ry="14" fill="#dedede"/><ellipse cx="22" cy="14" rx="22" ry="24" fill="#a8a8a8"/></g><g transform="translate(840 1562) scale(1.0)"><path d="M-38 -30H30L36 0L-30 4Z" fill="#d2d2d2"/><ellipse cx="-8" cy="18" rx="34" ry="26" fill="#b9b9b9"/><ellipse cx="-14" cy="16" rx="16" ry="14" fill="#dedede"/><ellipse cx="22" cy="14" rx="22" ry="24" fill="#a8a8a8"/></g><path d="M391 235L385 392" stroke="#c9c9c9" stroke-width="14"/><path d="M386 360L375 392" stroke="#555" stroke-width="8"/><rect x="377" y="88" width="28" height="38" fill="#e2534a"/><rect x="377" y="126" width="28" height="40" fill="#e6d83a"/><rect x="377" y="166" width="28" height="36" fill="#67b64a"/><rect x="378" y="202" width="26" height="40" fill="#b0b0b0"/><path d="M147 470L377 400L377 1537L140 1482Z" fill="url(#dA)" /><path d="M377 400L897 430L897 1502L377 1537Z" fill="#efefef" /><path d="M377 400V1537" stroke="#b4b4b4" stroke-width="6"/><path d="M140 1482L377 1537L897 1502L897 1515L377 1552L140 1495Z" fill="#d6d6d6" /><path d="M440 565L696 585L696 1447L440 1467Z" fill="url(#dMesh)" /><path d="M450 690L690 700M450 800L690 805M450 905L690 908M450 1020L690 1020M450 1130L690 1127M450 1240L690 1235M450 1350L690 1343" stroke="#a9a3a3" stroke-width="4" opacity=".6"/><path d="M735 472L846 478L846 551L735 548Z" fill="#2f3131" /><path d="M735 472L846 478L846 520L735 516Z" fill="#6b6e6e" /><circle cx="631" cy="504" r="26" fill="#e8dc3c"/><rect x="617" y="485" width="18" height="38" rx="5" fill="#c8202a"/><rect x="633" y="487" width="10" height="34" rx="4" fill="#b07a28"/><rect x="497" y="489" width="20" height="24" rx="4" fill="#8a8a4a"/><rect x="545" y="489" width="20" height="24" rx="4" fill="#8a8a4a"/><rect x="497" y="528" width="20" height="5" fill="#bbb"/><rect x="545" y="533" width="20" height="5" fill="#bbb"/><circle cx="524" cy="432" r="15" fill="#3a62b0"/><rect x="545" y="427" width="48" height="10" fill="#aaa" opacity=".7"/><rect x="386" y="915" width="22" height="98" rx="8" fill="#fafafa" stroke="#c8c8c8" stroke-width="4"/><g transform="translate(1248 1562)"><path d="M-42 -58H10L14 -22L-6 -6L-34 -14Z" fill="#d4d4d4"/><path d="M-30 -30L-8 -4" stroke="#bdbdbd" stroke-width="8"/><ellipse cx="4" cy="0" rx="14" ry="23" fill="#141414"/></g><g transform="translate(1324 1611)"><path d="M-42 -58H10L14 -22L-6 -6L-34 -14Z" fill="#d4d4d4"/><path d="M-30 -30L-8 -4" stroke="#bdbdbd" stroke-width="8"/><ellipse cx="4" cy="0" rx="14" ry="23" fill="#141414"/></g><g transform="translate(1821 1571)"><path d="M-42 -58H10L14 -22L-6 -6L-34 -14Z" fill="#d4d4d4"/><path d="M-30 -30L-8 -4" stroke="#bdbdbd" stroke-width="8"/><ellipse cx="4" cy="0" rx="14" ry="23" fill="#141414"/></g><ellipse cx="1727" cy="1539" rx="14" ry="9" fill="#1a1a1a"/><path d="M1183 470L1292 450L1292 1572L1183 1502Z" fill="url(#dB)" /><path d="M1292 450L1864 460L1857 1522L1292 1572Z" fill="url(#dBf)" /><path d="M1292 450V1572" stroke="#bdbdbd" stroke-width="6"/><path d="M1183 470L1292 450L1864 460" stroke="#e8e8e8" stroke-width="8" fill="none"/><path d="M1183 1502L1292 1572L1857 1522L1857 1532L1292 1585L1183 1512Z" fill="#d0d0d0" /><circle cx="1536" cy="523" r="29" fill="#2f5db0"/><circle cx="1536" cy="523" r="14" fill="#e8eef8"/><circle cx="1545" cy="523" r="7" fill="#2f5db0"/><rect x="1580" y="515" width="88" height="16" fill="#555" opacity=".75"/><rect x="1536" y="598" width="30" height="30" fill="#666" opacity=".4"/><rect x="1576" y="598" width="30" height="30" fill="#666" opacity=".4"/><rect x="1616" y="598" width="30" height="30" fill="#666" opacity=".4"/><rect x="1296" y="956" width="22" height="90" rx="4" fill="#c9c9c9" stroke="#aaa" stroke-width="3"/></g></g>
<!-- ill_cab1 --><g filter="url(#bl2)"><g transform="translate(1250 2750) scale(0.57803)"><defs><linearGradient id="c1top" x1="0" y1="0" x2="1" y2="0"><stop offset="0" stop-color="#e0e0e0"/><stop offset=".6" stop-color="#e4e4e4"/><stop offset="1" stop-color="#ececec"/></linearGradient><linearGradient id="c1fp" x1="0" y1="0" x2="0" y2="1"><stop offset="0" stop-color="#ececec"/><stop offset=".6" stop-color="#e0e0e0"/><stop offset="1" stop-color="#e4e4e4"/></linearGradient><linearGradient id="c1side" x1="0" y1="0" x2="1" y2="0"><stop offset="0" stop-color="#e6e6e6"/><stop offset="1" stop-color="#efefef"/></linearGradient></defs><g transform="translate(215 1660)"><path d="M-30 -50H28L30 -22H-28Z" fill="#d9d9d9"/><path d="M-28 -30Q-34 0 -22 22" stroke="#cfcfcf" stroke-width="8" fill="none"/><ellipse cx="4" cy="4" rx="27" ry="31" fill="#3c3c3c"/><ellipse cx="8" cy="4" rx="13" ry="15" fill="#8a8a8a"/></g><g transform="translate(400 1718)"><path d="M-30 -50H28L30 -22H-28Z" fill="#d9d9d9"/><path d="M-28 -30Q-34 0 -22 22" stroke="#cfcfcf" stroke-width="8" fill="none"/><ellipse cx="4" cy="4" rx="27" ry="31" fill="#3c3c3c"/><ellipse cx="8" cy="4" rx="13" ry="15" fill="#8a8a8a"/></g><g transform="translate(832 1668)"><path d="M-30 -50H28L30 -22H-28Z" fill="#d9d9d9"/><path d="M-28 -30Q-34 0 -22 22" stroke="#cfcfcf" stroke-width="8" fill="none"/><ellipse cx="4" cy="4" rx="27" ry="31" fill="#3c3c3c"/><ellipse cx="8" cy="4" rx="13" ry="15" fill="#8a8a8a"/></g><path d="M305 1628V1668" stroke="#cfcfcf" stroke-width="6"/><path d="M283 1668H327" stroke="#9a9a9a" stroke-width="10"/><path d="M512 1668V1728" stroke="#cfcfcf" stroke-width="6"/><path d="M490 1728H534" stroke="#9a9a9a" stroke-width="10"/><path d="M745 1640V1700" stroke="#cfcfcf" stroke-width="6"/><path d="M723 1700H767" stroke="#9a9a9a" stroke-width="10"/><path d="M210 382L318 378L320 360L560 363L700 375L743 390L743 470L400 490L210 476Z" fill="url(#c1top)" /><path d="M210 382L318 378L318 470L400 490L210 476Z" fill="#ededed" /><rect x="414" y="262" width="10.5" height="150" fill="#8c8682"/><rect x="406" y="206" width="20" height="52" fill="#dcdcdc"/><rect x="423" y="206" width="6" height="52" fill="#2a2a2a"/><rect x="403" y="256" width="31" height="12" fill="#b8b4b0"/><rect x="401" y="86" width="36" height="45" rx="3" fill="#e2302a"/><rect x="401" y="131" width="36" height="40" fill="#ecdc38"/><rect x="401" y="171" width="36" height="36" rx="3" fill="#55b236"/><circle cx="429" cy="416" r="12.5" fill="#141414"/><circle cx="407" cy="418" r="10" fill="#fafafa"/><path d="M185 492L402 478L398 1692L185 1622Z" fill="url(#c1side)" /><path d="M402 478L872 476L872 1622L398 1692Z" fill="#efefef" /><path d="M185 492L402 478L872 476L872 486L402 492L185 505Z" fill="#f6f6f6" /><path d="M205 522L380 512V862L205 858ZM205 862L380 866V1598L205 1545Z" fill="#ebebeb" stroke="#dcdcdc" stroke-width="4"/><path d="M250 880V1560" stroke="#e2e2e2" stroke-width="3"/><path d="M456 497L826 515L826 870L456 866Z" fill="url(#c1fp)" stroke="#d8d8d8" stroke-width="4"/><rect x="536" y="595" width="26" height="28" rx="3" fill="#3566b4"/><rect x="544" y="602" width="10" height="14" fill="#dfe8f4"/><rect x="568" y="602" width="52" height="14" fill="#5a82b8" opacity=".8"/><rect x="628" y="606" width="138" height="9" fill="#8a8a8a" opacity=".6"/><circle cx="755" cy="707" r="32" fill="#d9d838"/><ellipse cx="752" cy="706" rx="14" ry="16" fill="#cf6e6e"/><ellipse cx="772" cy="700" rx="10" ry="18" fill="#bdb82e"/><rect x="738" y="738" width="10" height="12" fill="#e0d040"/><rect x="535" y="692" width="17" height="17" fill="#2faa48"/><rect x="636" y="700" width="18" height="14" fill="#d4403c"/><rect x="478" y="670" width="12" height="14" fill="#555"/><rect x="538" y="742" width="12" height="4" fill="#bbb"/><rect x="640" y="742" width="12" height="4" fill="#bbb"/><path d="M455 866L826 870L826 1572L455 1607Z" fill="#1d1f22" /><path d="M456 866L826 868" stroke="#6a6c6e" stroke-width="4"/><rect x="478" y="880" width="6" height="36" fill="#e0e0e0" opacity=".85"/><path d="M492 890H580M492 906H580" stroke="#9a9c9e" stroke-width="9" stroke-dasharray="10 4" opacity=".9"/><path d="M600 896H640M655 892H775M655 910H775" stroke="#6c6e72" stroke-width="6" stroke-dasharray="7 6" opacity=".9"/><path d="M545 928H552M612 928H620M672 928H680M730 928H742" stroke="#8a8c90" stroke-width="6" opacity=".8"/><path d="M456 936L826 938" stroke="#6a6c6e" stroke-width="4"/><rect x="478" y="950" width="6" height="40" fill="#e0e0e0" opacity=".85"/><path d="M492 960H580M492 976H580" stroke="#9a9c9e" stroke-width="9" stroke-dasharray="10 4" opacity=".9"/><path d="M600 966H640M655 962H775M655 980H775" stroke="#6c6e72" stroke-width="6" stroke-dasharray="7 6" opacity=".9"/><path d="M545 1002H552M612 1002H620M672 1002H680M730 1002H742" stroke="#8a8c90" stroke-width="6" opacity=".8"/><path d="M456 1010L826 1012" stroke="#6a6c6e" stroke-width="4"/><rect x="478" y="1024" width="6" height="42" fill="#e0e0e0" opacity=".85"/><path d="M492 1034H580M492 1050H580" stroke="#9a9c9e" stroke-width="9" stroke-dasharray="10 4" opacity=".9"/><path d="M600 1040H640M655 1036H775M655 1054H775" stroke="#6c6e72" stroke-width="6" stroke-dasharray="7 6" opacity=".9"/><path d="M545 1078H552M612 1078H620M672 1078H680M730 1078H742" stroke="#8a8c90" stroke-width="6" opacity=".8"/><path d="M456 1086L826 1088" stroke="#6a6c6e" stroke-width="4"/><rect x="478" y="1100" width="6" height="45" fill="#e0e0e0" opacity=".85"/><path d="M492 1110H580M492 1126H580" stroke="#9a9c9e" stroke-width="9" stroke-dasharray="10 4" opacity=".9"/><path d="M600 1116H640M655 1112H775M655 1130H775" stroke="#6c6e72" stroke-width="6" stroke-dasharray="7 6" opacity=".9"/><path d="M545 1157H552M612 1157H620M672 1157H680M730 1157H742" stroke="#8a8c90" stroke-width="6" opacity=".8"/><path d="M456 1165L826 1167" stroke="#6a6c6e" stroke-width="4"/><path d="M490 1187L815 1186" stroke="#45474a" stroke-width="7" stroke-dasharray="8 7"/><path d="M490 1209L815 1208" stroke="#45474a" stroke-width="7" stroke-dasharray="8 7"/><path d="M490 1231L815 1230" stroke="#45474a" stroke-width="7" stroke-dasharray="8 7"/><path d="M490 1253L815 1252" stroke="#45474a" stroke-width="7" stroke-dasharray="8 7"/><path d="M490 1275L815 1274" stroke="#45474a" stroke-width="7" stroke-dasharray="8 7"/><rect x="478" y="1210" width="6" height="50" fill="#ddd" opacity=".8"/><path d="M456 1296L826 1293" stroke="#6a6c6e" stroke-width="4"/><rect x="478" y="1310" width="6" height="38" fill="#e0e0e0" opacity=".85"/><path d="M492 1320H580M492 1336H580" stroke="#9a9c9e" stroke-width="9" stroke-dasharray="10 4" opacity=".9"/><path d="M600 1326H640M655 1322H775M655 1340H775" stroke="#6c6e72" stroke-width="6" stroke-dasharray="7 6" opacity=".9"/><path d="M545 1360H552M612 1360H620M672 1360H680M730 1360H742" stroke="#8a8c90" stroke-width="6" opacity=".8"/><path d="M456 1368L826 1365" stroke="#6a6c6e" stroke-width="4"/><rect x="478" y="1382" width="6" height="40" fill="#e0e0e0" opacity=".85"/><path d="M492 1392H580M492 1408H580" stroke="#9a9c9e" stroke-width="9" stroke-dasharray="10 4" opacity=".9"/><path d="M600 1398H640M655 1394H775M655 1412H775" stroke="#6c6e72" stroke-width="6" stroke-dasharray="7 6" opacity=".9"/><path d="M545 1434H552M612 1434H620M672 1434H680M730 1434H742" stroke="#8a8c90" stroke-width="6" opacity=".8"/><path d="M456 1442L826 1439" stroke="#6a6c6e" stroke-width="4"/><rect x="478" y="1456" width="6" height="44" fill="#e0e0e0" opacity=".85"/><path d="M492 1466H580M492 1482H580" stroke="#9a9c9e" stroke-width="9" stroke-dasharray="10 4" opacity=".9"/><path d="M600 1472H640M655 1468H775M655 1486H775" stroke="#6c6e72" stroke-width="6" stroke-dasharray="7 6" opacity=".9"/><path d="M545 1512H552M612 1512H620M672 1512H680M730 1512H742" stroke="#8a8c90" stroke-width="6" opacity=".8"/><path d="M456 1520L826 1517" stroke="#6a6c6e" stroke-width="4"/><rect x="478" y="1534" width="6" height="46" fill="#e0e0e0" opacity=".85"/><path d="M492 1544H580M492 1560H580" stroke="#9a9c9e" stroke-width="9" stroke-dasharray="10 4" opacity=".9"/><path d="M600 1550H640M655 1546H775M655 1564H775" stroke="#6c6e72" stroke-width="6" stroke-dasharray="7 6" opacity=".9"/><path d="M545 1592H552M612 1592H620M672 1592H680M730 1592H742" stroke="#8a8c90" stroke-width="6" opacity=".8"/><path d="M826 870L838 868L838 1572L826 1572Z" fill="#c9c9c9" /><path d="M185 1622L398 1692L872 1622L872 1636L398 1708L185 1636Z" fill="#dcdcdc" /></g></g><g filter="url(#bl2)"><g transform="translate(2010 2750) scale(0.57803)"><defs><linearGradient id="c1top2" x1="0" y1="0" x2="1" y2="0"><stop offset="0" stop-color="#e0e0e0"/><stop offset=".6" stop-color="#e4e4e4"/><stop offset="1" stop-color="#ececec"/></linearGradient><linearGradient id="c1fp2" x1="0" y1="0" x2="0" y2="1"><stop offset="0" stop-color="#ececec"/><stop offset=".6" stop-color="#e0e0e0"/><stop offset="1" stop-color="#e4e4e4"/></linearGradient><linearGradient id="c1side2" x1="0" y1="0" x2="1" y2="0"><stop offset="0" stop-color="#e6e6e6"/><stop offset="1" stop-color="#efefef"/></linearGradient></defs><g transform="translate(215 1660)"><path d="M-30 -50H28L30 -22H-28Z" fill="#d9d9d9"/><path d="M-28 -30Q-34 0 -22 22" stroke="#cfcfcf" stroke-width="8" fill="none"/><ellipse cx="4" cy="4" rx="27" ry="31" fill="#3c3c3c"/><ellipse cx="8" cy="4" rx="13" ry="15" fill="#8a8a8a"/></g><g transform="translate(400 1718)"><path d="M-30 -50H28L30 -22H-28Z" fill="#d9d9d9"/><path d="M-28 -30Q-34 0 -22 22" stroke="#cfcfcf" stroke-width="8" fill="none"/><ellipse cx="4" cy="4" rx="27" ry="31" fill="#3c3c3c"/><ellipse cx="8" cy="4" rx="13" ry="15" fill="#8a8a8a"/></g><g transform="translate(832 1668)"><path d="M-30 -50H28L30 -22H-28Z" fill="#d9d9d9"/><path d="M-28 -30Q-34 0 -22 22" stroke="#cfcfcf" stroke-width="8" fill="none"/><ellipse cx="4" cy="4" rx="27" ry="31" fill="#3c3c3c"/><ellipse cx="8" cy="4" rx="13" ry="15" fill="#8a8a8a"/></g><path d="M305 1628V1668" stroke="#cfcfcf" stroke-width="6"/><path d="M283 1668H327" stroke="#9a9a9a" stroke-width="10"/><path d="M512 1668V1728" stroke="#cfcfcf" stroke-width="6"/><path d="M490 1728H534" stroke="#9a9a9a" stroke-width="10"/><path d="M745 1640V1700" stroke="#cfcfcf" stroke-width="6"/><path d="M723 1700H767" stroke="#9a9a9a" stroke-width="10"/><path d="M210 382L318 378L320 360L560 363L700 375L743 390L743 470L400 490L210 476Z" fill="url(#c1top2)" /><path d="M210 382L318 378L318 470L400 490L210 476Z" fill="#ededed" /><rect x="414" y="262" width="10.5" height="150" fill="#8c8682"/><rect x="406" y="206" width="20" height="52" fill="#dcdcdc"/><rect x="423" y="206" width="6" height="52" fill="#2a2a2a"/><rect x="403" y="256" width="31" height="12" fill="#b8b4b0"/><rect x="401" y="86" width="36" height="45" rx="3" fill="#e2302a"/><rect x="401" y="131" width="36" height="40" fill="#ecdc38"/><rect x="401" y="171" width="36" height="36" rx="3" fill="#55b236"/><circle cx="429" cy="416" r="12.5" fill="#141414"/><circle cx="407" cy="418" r="10" fill="#fafafa"/><path d="M185 492L402 478L398 1692L185 1622Z" fill="url(#c1side2)" /><path d="M402 478L872 476L872 1622L398 1692Z" fill="#efefef" /><path d="M185 492L402 478L872 476L872 486L402 492L185 505Z" fill="#f6f6f6" /><path d="M205 522L380 512V862L205 858ZM205 862L380 866V1598L205 1545Z" fill="#ebebeb" stroke="#dcdcdc" stroke-width="4"/><path d="M250 880V1560" stroke="#e2e2e2" stroke-width="3"/><path d="M456 497L826 515L826 870L456 866Z" fill="url(#c1fp2)" stroke="#d8d8d8" stroke-width="4"/><rect x="536" y="595" width="26" height="28" rx="3" fill="#3566b4"/><rect x="544" y="602" width="10" height="14" fill="#dfe8f4"/><rect x="568" y="602" width="52" height="14" fill="#5a82b8" opacity=".8"/><rect x="628" y="606" width="138" height="9" fill="#8a8a8a" opacity=".6"/><circle cx="755" cy="707" r="32" fill="#d9d838"/><ellipse cx="752" cy="706" rx="14" ry="16" fill="#cf6e6e"/><ellipse cx="772" cy="700" rx="10" ry="18" fill="#bdb82e"/><rect x="738" y="738" width="10" height="12" fill="#e0d040"/><rect x="535" y="692" width="17" height="17" fill="#2faa48"/><rect x="636" y="700" width="18" height="14" fill="#d4403c"/><rect x="478" y="670" width="12" height="14" fill="#555"/><rect x="538" y="742" width="12" height="4" fill="#bbb"/><rect x="640" y="742" width="12" height="4" fill="#bbb"/><path d="M455 866L826 870L826 1572L455 1607Z" fill="#1d1f22" /><path d="M456 866L826 868" stroke="#6a6c6e" stroke-width="4"/><rect x="478" y="880" width="6" height="36" fill="#e0e0e0" opacity=".85"/><path d="M492 890H580M492 906H580" stroke="#9a9c9e" stroke-width="9" stroke-dasharray="10 4" opacity=".9"/><path d="M600 896H640M655 892H775M655 910H775" stroke="#6c6e72" stroke-width="6" stroke-dasharray="7 6" opacity=".9"/><path d="M545 928H552M612 928H620M672 928H680M730 928H742" stroke="#8a8c90" stroke-width="6" opacity=".8"/><path d="M456 936L826 938" stroke="#6a6c6e" stroke-width="4"/><rect x="478" y="950" width="6" height="40" fill="#e0e0e0" opacity=".85"/><path d="M492 960H580M492 976H580" stroke="#9a9c9e" stroke-width="9" stroke-dasharray="10 4" opacity=".9"/><path d="M600 966H640M655 962H775M655 980H775" stroke="#6c6e72" stroke-width="6" stroke-dasharray="7 6" opacity=".9"/><path d="M545 1002H552M612 1002H620M672 1002H680M730 1002H742" stroke="#8a8c90" stroke-width="6" opacity=".8"/><path d="M456 1010L826 1012" stroke="#6a6c6e" stroke-width="4"/><rect x="478" y="1024" width="6" height="42" fill="#e0e0e0" opacity=".85"/><path d="M492 1034H580M492 1050H580" stroke="#9a9c9e" stroke-width="9" stroke-dasharray="10 4" opacity=".9"/><path d="M600 1040H640M655 1036H775M655 1054H775" stroke="#6c6e72" stroke-width="6" stroke-dasharray="7 6" opacity=".9"/><path d="M545 1078H552M612 1078H620M672 1078H680M730 1078H742" stroke="#8a8c90" stroke-width="6" opacity=".8"/><path d="M456 1086L826 1088" stroke="#6a6c6e" stroke-width="4"/><rect x="478" y="1100" width="6" height="45" fill="#e0e0e0" opacity=".85"/><path d="M492 1110H580M492 1126H580" stroke="#9a9c9e" stroke-width="9" stroke-dasharray="10 4" opacity=".9"/><path d="M600 1116H640M655 1112H775M655 1130H775" stroke="#6c6e72" stroke-width="6" stroke-dasharray="7 6" opacity=".9"/><path d="M545 1157H552M612 1157H620M672 1157H680M730 1157H742" stroke="#8a8c90" stroke-width="6" opacity=".8"/><path d="M456 1165L826 1167" stroke="#6a6c6e" stroke-width="4"/><path d="M490 1187L815 1186" stroke="#45474a" stroke-width="7" stroke-dasharray="8 7"/><path d="M490 1209L815 1208" stroke="#45474a" stroke-width="7" stroke-dasharray="8 7"/><path d="M490 1231L815 1230" stroke="#45474a" stroke-width="7" stroke-dasharray="8 7"/><path d="M490 1253L815 1252" stroke="#45474a" stroke-width="7" stroke-dasharray="8 7"/><path d="M490 1275L815 1274" stroke="#45474a" stroke-width="7" stroke-dasharray="8 7"/><rect x="478" y="1210" width="6" height="50" fill="#ddd" opacity=".8"/><path d="M456 1296L826 1293" stroke="#6a6c6e" stroke-width="4"/><rect x="478" y="1310" width="6" height="38" fill="#e0e0e0" opacity=".85"/><path d="M492 1320H580M492 1336H580" stroke="#9a9c9e" stroke-width="9" stroke-dasharray="10 4" opacity=".9"/><path d="M600 1326H640M655 1322H775M655 1340H775" stroke="#6c6e72" stroke-width="6" stroke-dasharray="7 6" opacity=".9"/><path d="M545 1360H552M612 1360H620M672 1360H680M730 1360H742" stroke="#8a8c90" stroke-width="6" opacity=".8"/><path d="M456 1368L826 1365" stroke="#6a6c6e" stroke-width="4"/><rect x="478" y="1382" width="6" height="40" fill="#e0e0e0" opacity=".85"/><path d="M492 1392H580M492 1408H580" stroke="#9a9c9e" stroke-width="9" stroke-dasharray="10 4" opacity=".9"/><path d="M600 1398H640M655 1394H775M655 1412H775" stroke="#6c6e72" stroke-width="6" stroke-dasharray="7 6" opacity=".9"/><path d="M545 1434H552M612 1434H620M672 1434H680M730 1434H742" stroke="#8a8c90" stroke-width="6" opacity=".8"/><path d="M456 1442L826 1439" stroke="#6a6c6e" stroke-width="4"/><rect x="478" y="1456" width="6" height="44" fill="#e0e0e0" opacity=".85"/><path d="M492 1466H580M492 1482H580" stroke="#9a9c9e" stroke-width="9" stroke-dasharray="10 4" opacity=".9"/><path d="M600 1472H640M655 1468H775M655 1486H775" stroke="#6c6e72" stroke-width="6" stroke-dasharray="7 6" opacity=".9"/><path d="M545 1512H552M612 1512H620M672 1512H680M730 1512H742" stroke="#8a8c90" stroke-width="6" opacity=".8"/><path d="M456 1520L826 1517" stroke="#6a6c6e" stroke-width="4"/><rect x="478" y="1534" width="6" height="46" fill="#e0e0e0" opacity=".85"/><path d="M492 1544H580M492 1560H580" stroke="#9a9c9e" stroke-width="9" stroke-dasharray="10 4" opacity=".9"/><path d="M600 1550H640M655 1546H775M655 1564H775" stroke="#6c6e72" stroke-width="6" stroke-dasharray="7 6" opacity=".9"/><path d="M545 1592H552M612 1592H620M672 1592H680M730 1592H742" stroke="#8a8c90" stroke-width="6" opacity=".8"/><path d="M826 870L838 868L838 1572L826 1572Z" fill="#c9c9c9" /><path d="M185 1622L398 1692L872 1622L872 1636L398 1708L185 1636Z" fill="#dcdcdc" /></g></g>
<!-- ill_cab2 --><g filter="url(#bl2)"><g transform="translate(2800 2750) scale(0.60540)"><defs>
<linearGradient id="c2sa" x1="0" y1="0" x2="0" y2="1"><stop offset="0" stop-color="#c8c8c8"/><stop offset=".4" stop-color="#b7b7b7"/><stop offset="1" stop-color="#b9b9b9"/></linearGradient>
<linearGradient id="c2fa" x1="0" y1="0" x2="0" y2="1"><stop offset="0" stop-color="#f1f1f1"/><stop offset=".35" stop-color="#e4e4e4"/><stop offset="1" stop-color="#e9e9e9"/></linearGradient>
<pattern id="c2ma" width="14" height="28" patternUnits="userSpaceOnUse"><rect width="14" height="28" fill="#969090"/><rect x="0" y="0" width="7" height="14" fill="#cecaca"/><rect x="7" y="14" width="7" height="14" fill="#bebaba"/></pattern>
</defs><g transform="translate(212 1608)"><path d="M-20 -42H42L46 -18H-14Z" fill="#d2d2d2"/><ellipse cx="-6" cy="2" rx="22" ry="27" fill="#161616"/><ellipse cx="26" cy="-4" rx="24" ry="22" fill="#c4c4c4"/><ellipse cx="30" cy="-4" rx="11" ry="10" fill="#ececec"/></g><g transform="translate(388 1700)"><path d="M-20 -42H42L46 -18H-14Z" fill="#d2d2d2"/><ellipse cx="-6" cy="2" rx="22" ry="27" fill="#161616"/><ellipse cx="26" cy="-4" rx="24" ry="22" fill="#c4c4c4"/><ellipse cx="30" cy="-4" rx="11" ry="10" fill="#ececec"/></g><g transform="translate(685 1622)"><path d="M-30 -40H32L34 -16H-28Z" fill="#d6d6d6"/><ellipse cx="0" cy="2" rx="34" ry="26" fill="#c2c2c2"/><ellipse cx="4" cy="0" rx="14" ry="11" fill="#ededed"/></g><rect x="496.5" y="262" width="7" height="124" fill="#77736f"/><rect x="490" y="358" width="17" height="28" fill="#aaa8a6"/><rect x="487" y="226" width="26" height="40" fill="#c9c9c9"/><rect x="491" y="226" width="5" height="40" fill="#333"/><rect x="503" y="226" width="4" height="40" fill="#555"/><rect x="486" y="122" width="27" height="42" rx="2" fill="#e2382c"/><rect x="486" y="164" width="27" height="28" fill="#ece36a"/><rect x="486" y="192" width="27" height="35" rx="2" fill="#5cb436"/><path d="M165 425L402 380L402 1667L180 1562Z" fill="url(#c2sa)" /><path d="M165 425L402 380" stroke="#dedede" stroke-width="9"/><path d="M185 432L380 398" stroke="#9c9c9c" stroke-width="5" stroke-dasharray="40 22"/><path d="M402 380L752 408L740 1582L402 1667Z" fill="url(#c2fa)" /><path d="M408 382V1664" stroke="#e2e2e2" stroke-width="10"/><path d="M399 384V1664" stroke="#8c8c8c" stroke-width="4.5"/><path d="M180 1562L402 1667L740 1582L740 1594L402 1682L180 1574Z" fill="#cfcfcf" /><path d="M462 838L698 828L691 1502L467 1557Z" fill="url(#c2ma)" /><path d="M560 834L640 830L636 1515L560 1534Z" fill="#6e6868" opacity=".12"/><circle cx="487" cy="568" r="12" fill="#3a64b2"/><rect x="508" y="564" width="40" height="8" fill="#9a9a9a" opacity=".4"/><rect x="564" y="562" width="126" height="10" fill="#8a8a8a" opacity=".45"/><rect x="564" y="576" width="126" height="3" fill="#aaa" opacity=".5"/><circle cx="497" cy="654" r="12" fill="#3f9a48"/><circle cx="496" cy="655" r="6" fill="#1b2a1e"/><circle cx="586" cy="655" r="12" fill="#e58a84"/><circle cx="585" cy="656" r="6" fill="#6a2a28"/><ellipse cx="678" cy="654" rx="32" ry="24" fill="#c9c545"/><ellipse cx="696" cy="650" rx="14" ry="20" fill="#aaa030"/><ellipse cx="684" cy="655" rx="11" ry="16" fill="#ee8494"/><rect x="668" y="672" width="14" height="10" fill="#d4d060"/><rect x="486" y="690" width="22" height="4" fill="#ccc"/><rect x="572" y="690" width="28" height="4" fill="#ccc"/><rect x="668" y="690" width="8" height="4" fill="#ccc"/><rect x="410" y="986" width="20" height="92" rx="6" fill="#f8f8f8" stroke="#bdbdbd" stroke-width="4"/></g></g><g filter="url(#bl2)"><g transform="translate(3584 2750) scale(0.60540)"><defs>
<linearGradient id="c2sb" x1="0" y1="0" x2="0" y2="1"><stop offset="0" stop-color="#c8c8c8"/><stop offset=".4" stop-color="#b7b7b7"/><stop offset="1" stop-color="#b9b9b9"/></linearGradient>
<linearGradient id="c2fb" x1="0" y1="0" x2="0" y2="1"><stop offset="0" stop-color="#f1f1f1"/><stop offset=".35" stop-color="#e4e4e4"/><stop offset="1" stop-color="#e9e9e9"/></linearGradient>
<pattern id="c2mb" width="14" height="28" patternUnits="userSpaceOnUse"><rect width="14" height="28" fill="#969090"/><rect x="0" y="0" width="7" height="14" fill="#cecaca"/><rect x="7" y="14" width="7" height="14" fill="#bebaba"/></pattern>
</defs><g transform="translate(212 1608)"><path d="M-20 -42H42L46 -18H-14Z" fill="#d2d2d2"/><ellipse cx="-6" cy="2" rx="22" ry="27" fill="#161616"/><ellipse cx="26" cy="-4" rx="24" ry="22" fill="#c4c4c4"/><ellipse cx="30" cy="-4" rx="11" ry="10" fill="#ececec"/></g><g transform="translate(388 1700)"><path d="M-20 -42H42L46 -18H-14Z" fill="#d2d2d2"/><ellipse cx="-6" cy="2" rx="22" ry="27" fill="#161616"/><ellipse cx="26" cy="-4" rx="24" ry="22" fill="#c4c4c4"/><ellipse cx="30" cy="-4" rx="11" ry="10" fill="#ececec"/></g><g transform="translate(685 1622)"><path d="M-30 -40H32L34 -16H-28Z" fill="#d6d6d6"/><ellipse cx="0" cy="2" rx="34" ry="26" fill="#c2c2c2"/><ellipse cx="4" cy="0" rx="14" ry="11" fill="#ededed"/></g><rect x="496.5" y="262" width="7" height="124" fill="#77736f"/><rect x="490" y="358" width="17" height="28" fill="#aaa8a6"/><rect x="487" y="226" width="26" height="40" fill="#c9c9c9"/><rect x="491" y="226" width="5" height="40" fill="#333"/><rect x="503" y="226" width="4" height="40" fill="#555"/><rect x="486" y="122" width="27" height="42" rx="2" fill="#e2382c"/><rect x="486" y="164" width="27" height="28" fill="#ece36a"/><rect x="486" y="192" width="27" height="35" rx="2" fill="#5cb436"/><path d="M165 425L402 380L402 1667L180 1562Z" fill="url(#c2sb)" /><path d="M165 425L402 380" stroke="#dedede" stroke-width="9"/><path d="M185 432L380 398" stroke="#9c9c9c" stroke-width="5" stroke-dasharray="40 22"/><path d="M402 380L752 408L740 1582L402 1667Z" fill="url(#c2fb)" /><path d="M408 382V1664" stroke="#e2e2e2" stroke-width="10"/><path d="M399 384V1664" stroke="#8c8c8c" stroke-width="4.5"/><path d="M180 1562L402 1667L740 1582L740 1594L402 1682L180 1574Z" fill="#cfcfcf" /><path d="M462 838L698 828L691 1502L467 1557Z" fill="url(#c2mb)" /><path d="M560 834L640 830L636 1515L560 1534Z" fill="#6e6868" opacity=".12"/><circle cx="487" cy="568" r="12" fill="#3a64b2"/><rect x="508" y="564" width="40" height="8" fill="#9a9a9a" opacity=".4"/><rect x="564" y="562" width="126" height="10" fill="#8a8a8a" opacity=".45"/><rect x="564" y="576" width="126" height="3" fill="#aaa" opacity=".5"/><circle cx="497" cy="654" r="12" fill="#3f9a48"/><circle cx="496" cy="655" r="6" fill="#1b2a1e"/><circle cx="586" cy="655" r="12" fill="#e58a84"/><circle cx="585" cy="656" r="6" fill="#6a2a28"/><ellipse cx="678" cy="654" rx="32" ry="24" fill="#c9c545"/><ellipse cx="696" cy="650" rx="14" ry="20" fill="#aaa030"/><ellipse cx="684" cy="655" rx="11" ry="16" fill="#ee8494"/><rect x="668" y="672" width="14" height="10" fill="#d4d060"/><rect x="486" y="690" width="22" height="4" fill="#ccc"/><rect x="572" y="690" width="28" height="4" fill="#ccc"/><rect x="668" y="690" width="8" height="4" fill="#ccc"/><rect x="410" y="986" width="20" height="92" rx="6" fill="#f8f8f8" stroke="#bdbdbd" stroke-width="4"/></g></g></g>
<g id="labels" filter="url(#bl0)" font-family="&quot;Liberation Sans&quot;, &quot;Noto Sans CJK SC&quot;, sans-serif" font-size="104.17" fill="#343232">
<text x="2768.56" y="760.45" letter-spacing="2.39">箱变</text>
<text x="3370.00" y="1085.55" letter-spacing="4.28">实验室管理系统</text>
<text x="3757.54" y="1331.31" letter-spacing="5.96">通讯</text>
<text x="3219.79" y="2061.64">星云充放电测试系统</text>
<text x="3764.94" y="2356.96" letter-spacing="3.05">通讯</text>
<text x="568.10" y="1313.45" letter-spacing="7.38">交流网</text>
<text x="570.59" y="2474.56" font-size="95.83" letter-spacing="1.03">直流网</text>
<text x="1664.06" y="2247.58" letter-spacing="3.66">母线配电系统</text>
<text x="1286.67" y="3956.29" letter-spacing="2.43">充放电设备</text>
<text x="1448.30" y="4081.48" letter-spacing="1.45">柜机</text>
<text x="2126.97" y="3956.29" letter-spacing="2.43">充放电设备</text>
<text x="2288.60" y="4081.48" letter-spacing="1.45">柜机</text>
<text x="2841.77" y="3956.29" letter-spacing="2.43">充放电设备</text>
<text x="3003.40" y="4081.48" letter-spacing="1.45">柜机</text>
<text x="3649.77" y="3956.29" letter-spacing="2.43">充放电设备</text>
<text x="3811.40" y="4081.48" letter-spacing="1.45">柜机</text></g>
</svg>
</body></html>
